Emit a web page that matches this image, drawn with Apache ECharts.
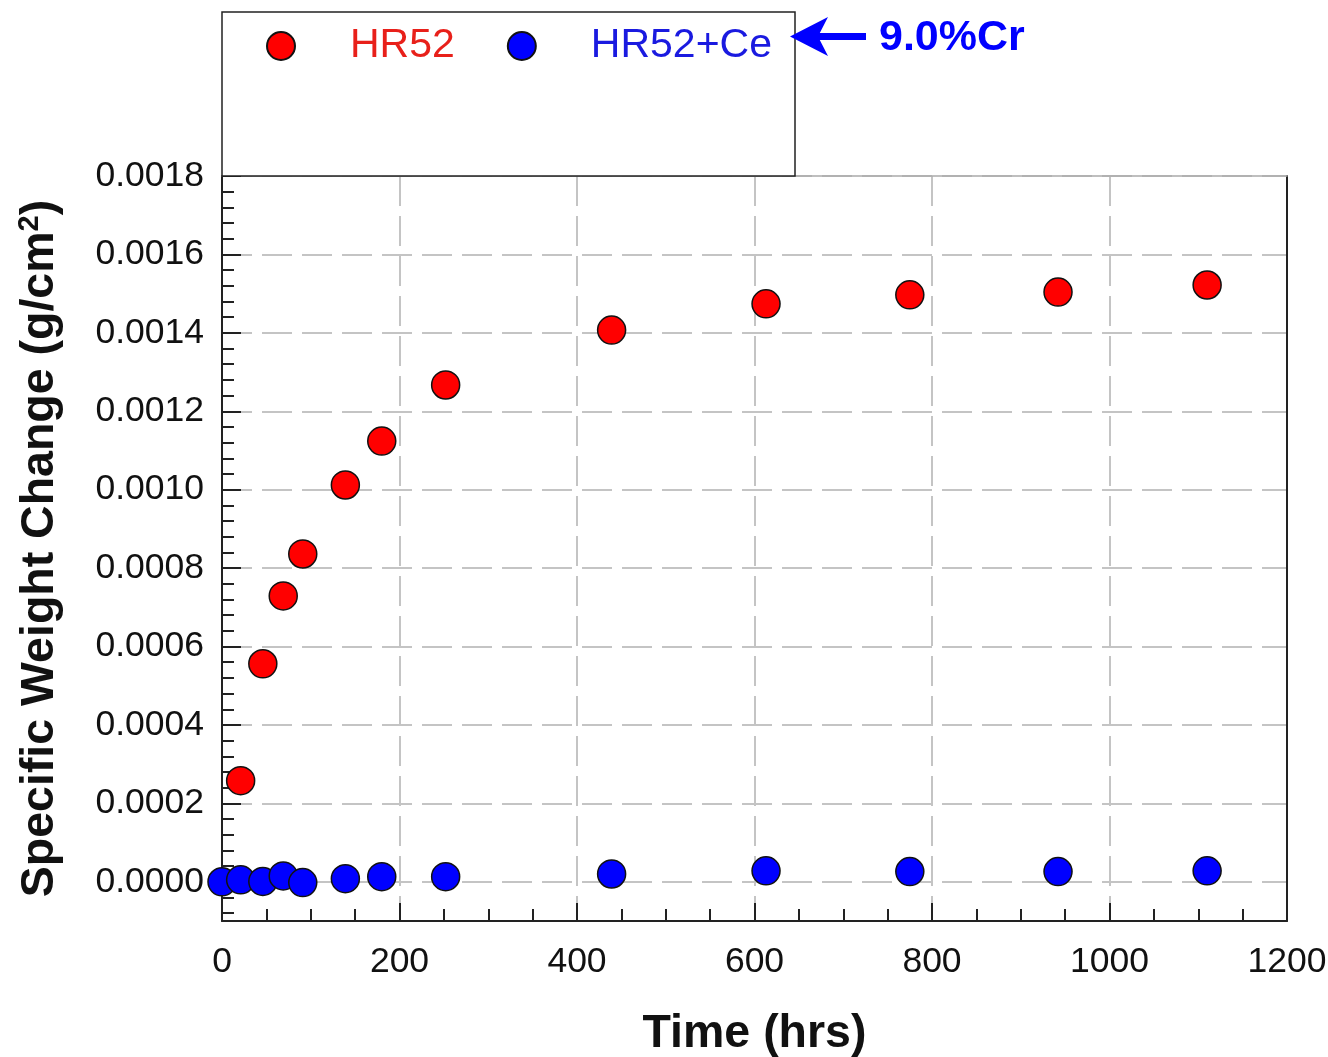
<!DOCTYPE html>
<html><head><meta charset="utf-8">
<script src="https://cdn.jsdelivr.net/npm/echarts@6/dist/echarts.min.js"></script>
<style>html,body{margin:0;padding:0;background:#fff}#c{width:1328px;height:1057px}</style>
</head><body><div id="c"></div>
<script>
const FONT = '"Liberation Sans", Arial, sans-serif';
// Time (hrs)
const timeHR52 = [21, 46, 69, 91, 139, 180, 252, 439, 613, 775, 942, 1110];
const weightHR52 = [0.000258, 0.000556, 0.000729, 0.000836, 0.001012, 0.001124, 0.001267, 0.001407, 0.001474, 0.001497, 0.001504, 0.001522];
const timeHR52Ce = [0, 21, 46, 69, 91, 139, 180, 252, 439, 613, 775, 942, 1110];
const weightHR52Ce = [0.000000, 0.000005, 0.000001, 0.000015, -0.000002, 0.000008, 0.000013, 0.000013, 0.000020, 0.000028, 0.000026, 0.000026, 0.000028];
const yTicks = [0, 0.0002, 0.0004, 0.0006, 0.0008, 0.0010, 0.0012, 0.0014, 0.0016, 0.0018];
const yMinorTicks = [];
for (let k = -2; k <= 45; k++) { if (k % 5 !== 0) yMinorTicks.push(+(k * 0.00004).toFixed(6)); }

const chart = echarts.init(document.getElementById('c'));
const axisColor = '#222';
const gridLine = { show: true, lineStyle: { color: '#c4c4c4', width: 2, type: [30, 10] } };
chart.setOption({
  animation: false,
  backgroundColor: '#fff',
  grid: { left: 222, right: 41, top: 176, bottom: 136, show: false, outerBoundsMode: 'none', containLabel: false },
  graphic: [
    { type: 'rect', z: 1, shape: { x: 222, y: 12, width: 573, height: 164 },
      style: { fill: '#fff', stroke: '#222', lineWidth: 1.5 } },
    { type: 'line', z: 10, shape: { x1: 866, y1: 36.5, x2: 812, y2: 36.5 },
      style: { stroke: '#0000ff', lineWidth: 7 } },
    { type: 'polygon', z: 10, shape: { points: [[790, 36.5], [828, 17], [818, 36.5], [828, 56]] },
      style: { fill: '#0000ff' } },
    { type: 'text', z: 10, left: 879, top: 17,
      style: { text: '9.0%Cr', fill: '#0000ff', font: 'bold 43px ' + FONT } }
  ],
  legend: {
    z: 20, left: 266, top: 25, padding: 0, itemWidth: 28, itemHeight: 28, itemGap: 52,
    data: [{ name: 'HR52', textStyle: { color: '#e8201a' } }, { name: 'HR52+Ce', textStyle: { color: '#1a1ae0' } }],
    textStyle: { fontFamily: FONT, fontSize: 41, lineHeight: 42, padding: [0, 0, 0, 50] }
  },
  xAxis: [{
    type: 'value', min: 0, max: 1200, interval: 200,
    name: 'Time (hrs)', nameLocation: 'middle', nameGap: 90,
    nameTextStyle: { fontFamily: FONT, fontSize: 46.5, fontWeight: 'bold', color: '#111' },
    axisLine: { show: true, onZero: false, lineStyle: { color: axisColor, width: 2 } },
    axisTick: { show: true, inside: true, length: 18, lineStyle: { color: axisColor, width: 2 } },
    minorTick: { show: true, splitNumber: 4, length: 12, lineStyle: { color: axisColor, width: 2 } },
    axisLabel: { fontFamily: FONT, fontSize: 35.5, color: '#111', margin: 23, formatter: v => String(v) },
    splitLine: gridLine
  }, {
    type: 'value', position: 'top', min: 0, max: 1200,
    axisLine: { show: true, onZero: false, lineStyle: { color: '#aaa', width: 1.5 } },
    axisTick: { show: false }, axisLabel: { show: false }, splitLine: { show: false }
  }],
  yAxis: [{
    type: 'value', min: -0.0001, max: 0.0018,
    name: 'Specific Weight Change (g/cm{sup|2})', nameLocation: 'middle', nameGap: 156, nameRotate: 90,
    nameTextStyle: { fontFamily: FONT, fontSize: 46.5, fontWeight: 'bold', color: '#111',
      rich: { sup: { fontFamily: FONT, fontSize: 29, fontWeight: 'bold', color: '#111', verticalAlign: 'top', padding: [0, 0, 22, 0] } } },
    axisLine: { show: true, onZero: false, lineStyle: { color: axisColor, width: 2 } },
    axisTick: { show: true, inside: true, length: 19, customValues: yTicks, lineStyle: { color: axisColor, width: 2 } },
    axisLabel: { fontFamily: FONT, fontSize: 35.5, color: '#111', margin: 18, customValues: yTicks,
      formatter: v => v.toFixed(4) },
    splitLine: gridLine
  }, {
    type: 'value', position: 'left', min: -0.0001, max: 0.0018,
    axisLine: { show: false },
    axisTick: { show: true, inside: true, length: 12, customValues: yMinorTicks, lineStyle: { color: axisColor, width: 2 } },
    axisLabel: { show: false }, splitLine: { show: false }
  }, {
    type: 'value', position: 'right', min: -0.0001, max: 0.0018,
    axisLine: { show: true, onZero: false, lineStyle: { color: axisColor, width: 2 } },
    axisTick: { show: false }, axisLabel: { show: false }, splitLine: { show: false }
  }],
  series: [{
    name: 'HR52', type: 'scatter', symbol: 'circle', symbolSize: 28, z: 5,
    itemStyle: { color: '#ff0000', borderColor: '#111', borderWidth: 1.5, opacity: 1 },
    data: timeHR52.map((t, i) => [t, weightHR52[i]])
  }, {
    name: 'HR52+Ce', type: 'scatter', symbol: 'circle', symbolSize: 28, z: 5,
    itemStyle: { color: '#0000ff', borderColor: '#111', borderWidth: 1.5, opacity: 1 },
    data: timeHR52Ce.map((t, i) => [t, weightHR52Ce[i]])
  }]
});
</script></body></html>
